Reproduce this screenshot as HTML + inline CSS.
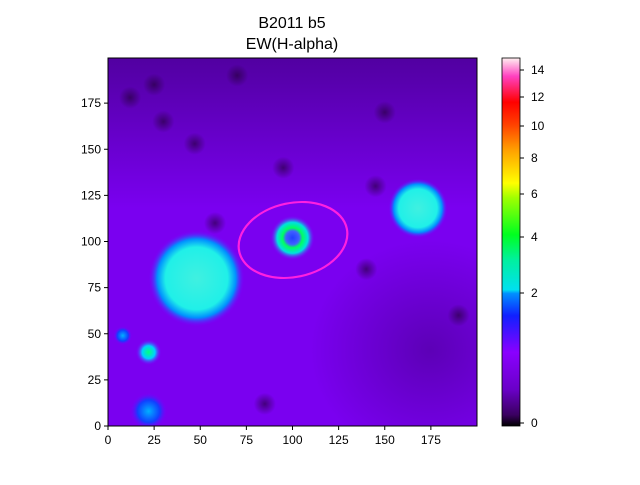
<!DOCTYPE html>
<html><head><meta charset="utf-8"><style>
body{margin:0;background:#fff;font-family:"Liberation Sans",sans-serif}
svg text{font-family:"Liberation Sans",sans-serif}
</style></head><body>
<svg id="chart" width="640" height="480" viewBox="0 0 640 480" xmlns="http://www.w3.org/2000/svg">
<defs>
<linearGradient id="cbar" x1="0" y1="1" x2="0" y2="0">
<stop offset="0" stop-color="#000000"/>
<stop offset="0.03" stop-color="#3a0060"/>
<stop offset="0.1" stop-color="#6a00c8"/>
<stop offset="0.2" stop-color="#8a00ff"/>
<stop offset="0.3" stop-color="#1020ff"/>
<stop offset="0.36" stop-color="#0090ff"/>
<stop offset="0.37" stop-color="#00e0f0"/>
<stop offset="0.45" stop-color="#00f0a0"/>
<stop offset="0.52" stop-color="#00ff20"/>
<stop offset="0.62" stop-color="#a0ff00"/>
<stop offset="0.66" stop-color="#ffff00"/>
<stop offset="0.75" stop-color="#ffa000"/>
<stop offset="0.82" stop-color="#ff4000"/>
<stop offset="0.88" stop-color="#ff0000"/>
<stop offset="0.95" stop-color="#ff40c0"/>
<stop offset="1" stop-color="#fff0f0"/>
</linearGradient>
<linearGradient id="topshade" x1="0" y1="0" x2="0" y2="1"><stop offset="0" stop-color="#300060" stop-opacity="0.55"/><stop offset="1" stop-color="#300060" stop-opacity="0"/></linearGradient>
<radialGradient id="brshade"><stop offset="0" stop-color="#300060" stop-opacity="0.4"/><stop offset="1" stop-color="#300060" stop-opacity="0"/></radialGradient>
<radialGradient id="blobBig"><stop offset="0" stop-color="#40f0e0"/><stop offset="0.65" stop-color="#20f0e8"/><stop offset="0.82" stop-color="#0090ff"/><stop offset="1" stop-color="#7a00ff" stop-opacity="0"/></radialGradient>
<radialGradient id="blobGreen"><stop offset="0" stop-color="#2040ff"/><stop offset="0.3" stop-color="#4060ff"/><stop offset="0.45" stop-color="#00ff60"/><stop offset="0.7" stop-color="#00e0e0"/><stop offset="1" stop-color="#7a00ff" stop-opacity="0"/></radialGradient>
<radialGradient id="blobSmall"><stop offset="0" stop-color="#00ff80"/><stop offset="0.5" stop-color="#00d0ff"/><stop offset="1" stop-color="#7a00ff" stop-opacity="0"/></radialGradient>
<radialGradient id="blobBlue"><stop offset="0" stop-color="#00b0ff"/><stop offset="0.6" stop-color="#1040ff"/><stop offset="1" stop-color="#7a00ff" stop-opacity="0"/></radialGradient>
<radialGradient id="dark"><stop offset="0" stop-color="#200030" stop-opacity="0.6"/><stop offset="1" stop-color="#200030" stop-opacity="0"/></radialGradient>
<clipPath id="plotclip"><rect x="108" y="58" width="369" height="368"/></clipPath>
</defs>
<text x="292" y="28" text-anchor="middle" font-size="16">B2011 b5</text>
<text x="292" y="49" text-anchor="middle" font-size="16">EW(H-alpha)</text>
<g clip-path="url(#plotclip)">
<rect x="108" y="58" width="369" height="368" fill="#7a00f0"/>
<rect x="108" y="58" width="369" height="150" fill="url(#topshade)"/>
<ellipse cx="430" cy="350" rx="120" ry="110" fill="url(#brshade)"/>
<g id="blobs"></g>
</g>
<rect x="108" y="58" width="369" height="368" fill="none" stroke="#000" stroke-width="1"/>
<ellipse cx="293" cy="240" rx="55" ry="37" transform="rotate(-12 293 240)" fill="none" stroke="#ff20e0" stroke-width="2.2"/>
<g id="axes"></g>
<rect x="502" y="58" width="18" height="368" fill="url(#cbar)" stroke="#000" stroke-width="0.8"/>
<g id="cbticks"></g>
</svg>
<script>
const xTicks=[0,25,50,75,100,125,150,175];
const yTicks=[0,25,50,75,100,125,150,175];
const blobX=[48,100,168,22,8,22];
const blobY=[80,102,118,40,49,8];
const blobR=[26,12,16,7,5,10];
const blobFill=["blobBig","blobGreen","blobBig","blobSmall","blobBlue","blobBlue"];
const darkX=[12,47,58,150,145,85,140,25,95,30,70,190];
const darkY=[178,153,110,170,130,12,85,185,140,165,190,60];
const cbValues=[0,2,4,6,8,10,12,14];
const cbPix=[423,293,237,194,158,126,97,70];
const NS="http://www.w3.org/2000/svg";
const sx=v=>108+1.845*v, sy=v=>426-1.845*v, sr=v=>1.845*v;
const bg=document.getElementById('blobs');
for(let i=0;i<darkX.length;i++){const c=document.createElementNS(NS,'circle');
c.setAttribute('cx',sx(darkX[i]));c.setAttribute('cy',sy(darkY[i]));c.setAttribute('r',sr(6));c.setAttribute('fill','url(#dark)');


bg.appendChild(c);}
for(let i=0;i<blobX.length;i++){const c=document.createElementNS(NS,'circle');
c.setAttribute('cx',sx(blobX[i]));c.setAttribute('cy',sy(blobY[i]));c.setAttribute('r',sr(blobR[i]));c.setAttribute('fill','url(#'+blobFill[i]+')');


bg.appendChild(c);}
const ax=document.getElementById('axes');
xTicks.forEach(v=>{const l=document.createElementNS(NS,'line');l.setAttribute('x1',sx(v));l.setAttribute('x2',sx(v));l.setAttribute('y1',426);l.setAttribute('y2',430);l.setAttribute('stroke','#000');


ax.appendChild(l);
const t=document.createElementNS(NS,'text');t.setAttribute('x',sx(v));t.setAttribute('y',444);t.setAttribute('text-anchor','middle');t.setAttribute('font-size','12');t.textContent=v;


ax.appendChild(t);});
yTicks.forEach(v=>{const l=document.createElementNS(NS,'line');l.setAttribute('x1',104);l.setAttribute('x2',108);l.setAttribute('y1',sy(v));l.setAttribute('y2',sy(v));l.setAttribute('stroke','#000');


ax.appendChild(l);
const t=document.createElementNS(NS,'text');t.setAttribute('x',101);t.setAttribute('y',sy(v)+4);t.setAttribute('text-anchor','end');t.setAttribute('font-size','12');t.textContent=v;


ax.appendChild(t);});
const cb=document.getElementById('cbticks');
cbValues.forEach((v,i)=>{const y=cbPix[i];const l=document.createElementNS(NS,'line');l.setAttribute('x1',520);l.setAttribute('x2',524);l.setAttribute('y1',y);l.setAttribute('y2',y);l.setAttribute('stroke','#000');


cb.appendChild(l);
const t=document.createElementNS(NS,'text');t.setAttribute('x',531);t.setAttribute('y',y+4);t.setAttribute('font-size','12');t.textContent=v;


cb.appendChild(t);});
</script>
</body></html>
